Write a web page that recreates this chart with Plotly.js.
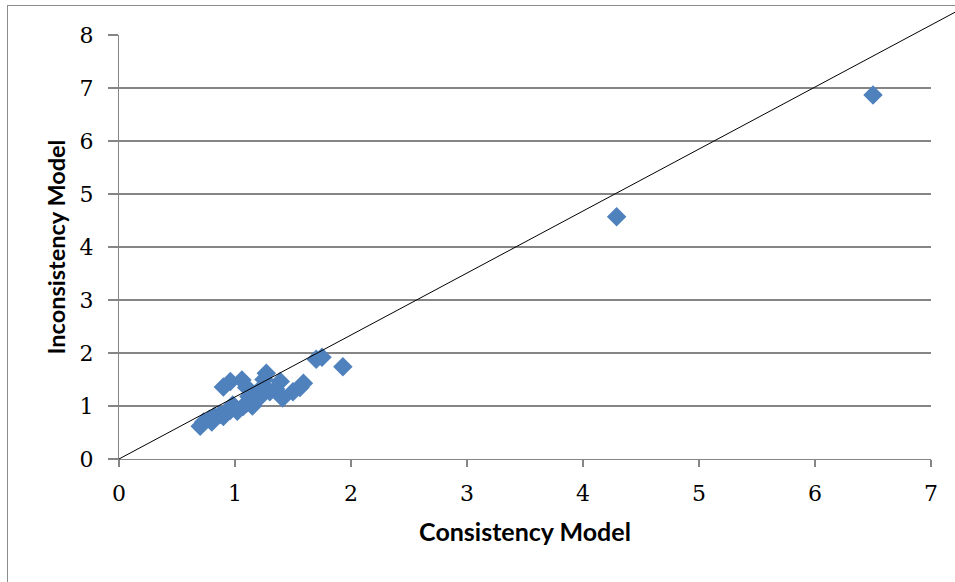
<!DOCTYPE html>
<html>
<head>
<meta charset="utf-8">
<script src="https://cdn.plot.ly/plotly-3.0.1.min.js"></script>
<style>
  html, body { margin: 0; padding: 0; background: #ffffff; }
  #wrap { position: relative; width: 955px; height: 582px; overflow: hidden; }
  #frame { position: absolute; left: 7px; top: 5px; width: 1000px; height: 700px; border: 1px solid #8c8c8c; box-sizing: border-box; }
  #chart { position: absolute; left: 0; top: 0; width: 955px; height: 582px; }
</style>
</head>
<body>
<div id="wrap">
  <div id="frame"></div>
  <div id="chart"></div>
</div>
<script>
// Consistency model estimates (x) vs inconsistency model estimates (y)
const consistency = [0.70, 0.73, 0.78, 0.80, 0.82, 0.87, 0.90, 0.92, 0.96, 0.98, 1.00, 1.02, 1.07, 1.10, 1.12, 1.13, 1.15, 1.19, 1.20, 1.22,
                     0.90, 0.96, 1.06, 1.10, 1.27, 1.25, 1.30, 1.39, 1.35, 1.41, 1.50, 1.56, 1.59,
                     1.70, 1.75, 1.93, 4.29, 6.50];
const inconsistency = [0.62, 0.70, 0.75, 0.70, 0.80, 0.84, 0.80, 0.88, 0.92, 1.02, 0.97, 0.90, 0.99, 1.05, 1.18, 1.08, 1.00, 1.15, 1.28, 1.18,
                       1.36, 1.46, 1.49, 1.35, 1.62, 1.50, 1.27, 1.46, 1.32, 1.15, 1.27, 1.35, 1.43,
                       1.88, 1.92, 1.74, 4.57, 6.87];
const xTicks = [0, 1, 2, 3, 4, 5, 6, 7];
const yTicks = [0, 1, 2, 3, 4, 5, 6, 7, 8];
const xRange = [0, 7];
const yRange = [0, 8];
// reference line endpoints (data units)
const refLineX = [0, 7.25];
const refLineY = [0, 8.48];

const trace = {
  x: consistency,
  y: inconsistency,
  type: 'scatter',
  mode: 'markers',
  marker: { symbol: 'diamond', size: 15, color: '#4F81BD', line: { width: 0 } },
  cliponaxis: false,
  hoverinfo: 'x+y'
};

const gridCol = '#858585';
const tickFont = { family: 'DejaVu Serif, Liberation Serif, serif', size: 22, color: '#000' };
const titleFam = 'Lato, Roboto, sans-serif';
const layout = {
  width: 955,
  height: 582,
  margin: { l: 119, r: 24, t: 35, b: 123, pad: 0 },
  paper_bgcolor: 'rgba(0,0,0,0)',
  plot_bgcolor: 'rgba(0,0,0,0)',
  showlegend: false,
  font: { family: 'DejaVu Serif, serif', size: 22, color: '#000000' },
  xaxis: {
    range: xRange,
    tickvals: xTicks,
    ticktext: xTicks.map(String),
    showgrid: false,
    zeroline: false,
    showline: true,
    linecolor: gridCol,
    linewidth: 1.2,
    ticks: 'outside',
    ticklen: 7,
    tickwidth: 1.2,
    tickcolor: gridCol,
    ticklabelstandoff: 7,
    tickfont: tickFont,
    title: { text: 'Consistency Model', font: { family: titleFam, size: 25, color: '#000', weight: 'bold' }, standoff: 19 },
    automargin: false
  },
  yaxis: {
    range: yRange,
    tickvals: yTicks,
    ticktext: yTicks.map(String),
    showgrid: true,
    gridcolor: gridCol,
    gridwidth: 1.2,
    zeroline: false,
    showline: true,
    linecolor: gridCol,
    linewidth: 1.2,
    ticks: 'outside',
    ticklen: 10,
    tickwidth: 1.2,
    tickcolor: gridCol,
    ticklabelstandoff: 10,
    tickfont: tickFont,
    title: { text: 'Inconsistency Model', font: { family: titleFam, size: 23.5, color: '#000', weight: 'bold' }, standoff: 7 },
    automargin: false
  },
  shapes: [{
    type: 'line',
    xref: 'x domain', yref: 'y domain',
    x0: (refLineX[0] - xRange[0]) / (xRange[1] - xRange[0]),
    y0: (refLineY[0] - yRange[0]) / (yRange[1] - yRange[0]),
    x1: (refLineX[1] - xRange[0]) / (xRange[1] - xRange[0]),
    y1: (refLineY[1] - yRange[0]) / (yRange[1] - yRange[0]),
    line: { color: '#000000', width: 1 },
    layer: 'above'
  }]
};

Plotly.newPlot('chart', [trace], layout, { displayModeBar: false, staticPlot: true });
</script>
</body>
</html>
